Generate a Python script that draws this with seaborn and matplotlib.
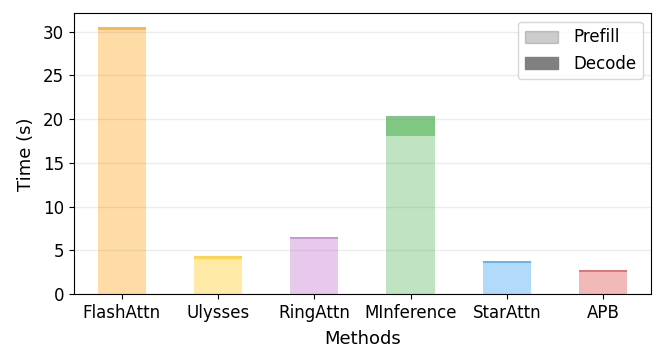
import numpy as np
import pandas as pd
import matplotlib.pyplot as plt
import matplotlib.colors as mcolors
from matplotlib.patches import Patch
import seaborn as sns

methods = ['FlashAttn', 'Ulysses', 'RingAttn', 'MInference', 'StarAttn', 'APB']
prefill = [30.15, 4.05, 6.35, 18.1, 3.6, 2.55]
decode = [0.4, 0.25, 0.15, 2.3, 0.2, 0.25]
colors = ['#FFB74D', '#FFD54F', '#CE93D8', '#81C784', '#64B5F6', '#E57373']


def lighten(c, a=0.5):
    rgb = np.array(mcolors.to_rgb(c))
    return tuple(rgb * a + (1 - a))


df = pd.DataFrame({'Methods': methods, 'prefill': prefill, 'decode': decode})
df['total'] = df['prefill'] + df['decode']

plt.rcParams['font.family'] = 'DejaVu Sans'
fig, ax = plt.subplots(figsize=(6.65, 3.64), dpi=100)

# total bar in decode colour, prefill drawn over it
sns.barplot(data=df, x='Methods', y='total', hue='Methods', palette=colors,
            saturation=1, width=0.5, linewidth=0, legend=False, ax=ax)
sns.barplot(data=df, x='Methods', y='prefill', hue='Methods',
            palette=[lighten(c) for c in colors], saturation=1,
            width=0.5, linewidth=0, legend=False, ax=ax)

ax.set_xlim(-0.5, len(methods) - 0.5)
ax.set_ylim(0, df['total'].max() * 1.05)
ax.grid(axis='y', color='gray', alpha=0.15, linewidth=1)
ax.set_xlabel('Methods', fontsize=13, labelpad=6)
ax.set_ylabel('Time (s)', fontsize=13, labelpad=6)
ax.tick_params(labelsize=12)

handles = [Patch(color='gray', alpha=0.4, label='Prefill'),
           Patch(color='gray', alpha=1.0, label='Decode')]
ax.legend(handles=handles, loc='upper right', fontsize=12,
          handlelength=2.0, handleheight=0.75, handletextpad=0.9, labelspacing=0.5)

plt.subplots_adjust(left=0.111, right=0.979, top=0.963, bottom=0.192)
plt.savefig('out.png', dpi=100)
